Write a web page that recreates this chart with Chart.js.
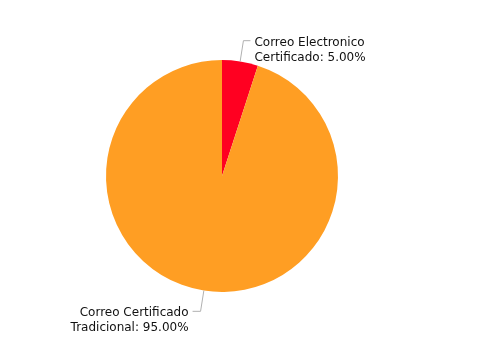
<!DOCTYPE html>
<html>
<head>
<meta charset="utf-8">
<script src="https://cdn.jsdelivr.net/npm/chart.js@4"></script>
<style>
    body { margin: 0; background: #fff; }
    canvas { display: block; }
</style>
</head>
<body>
<canvas id="chart" width="492" height="360"></canvas>
<script>
// datos del grafico
const categories = ["Correo Electronico Certificado", "Correo Certificado Tradicional"];
const categoryLines = [["Correo Electronico", "Certificado"], ["Correo Certificado", "Tradicional"]];
const values = [5, 95];
const colors = ["#ff0021", "#ff9e23"];

// etiquetas con linea guia fuera del pastel
const outsideLabels = {
    id: "outsideLabels",
    afterDraw(chart) {
        const ctx = chart.ctx;
        const meta = chart.getDatasetMeta(0);
        const total = values.reduce((a, b) => a + b, 0);
        ctx.save();
        ctx.font = "12px 'DejaVu Sans'";
        ctx.textBaseline = "middle";
        meta.data.forEach((arc, i) => {
            const mid = (arc.startAngle + arc.endAngle) / 2;
            const cos = Math.cos(mid), sin = Math.sin(mid);
            const r = arc.outerRadius;
            const x1 = arc.x + cos * r, y1 = arc.y + sin * r;
            const x2 = arc.x + cos * (r + 21), y2 = arc.y + sin * (r + 21);
            const right = cos >= 0;
            const x3 = x2 + (right ? 7 : -8);

            ctx.strokeStyle = "#b0b0b0";
            ctx.lineWidth = 1;
            ctx.beginPath();
            ctx.moveTo(x1, y1);
            ctx.lineTo(x2, y2);
            ctx.lineTo(x3, y2);
            ctx.stroke();

            const pct = (values[i] / total * 100).toFixed(2) + "%";
            const lines = [categoryLines[i][0], categoryLines[i][1] + ": " + pct];
            ctx.fillStyle = "#111";
            ctx.textAlign = right ? "left" : "right";
            const tx = x3 + (right ? 4 : -4);
            lines.forEach((t, k) => ctx.fillText(t, tx, y2 + 2 + k * 15));
        });
        ctx.restore();
    }
};

new Chart(document.getElementById("chart").getContext("2d"), {
    type: "pie",
    data: {
        labels: categories,
        datasets: [{
            data: values,
            backgroundColor: colors,
            borderWidth: 0
        }]
    },
    options: {
        responsive: false,
        animation: false,
        layout: { padding: { top: 60, bottom: 68, left: 0, right: 48 } },
        plugins: {
            legend: { display: false },
            tooltip: { enabled: false }
        }
    },
    plugins: [outsideLabels]
});
</script>
</body>
</html>
